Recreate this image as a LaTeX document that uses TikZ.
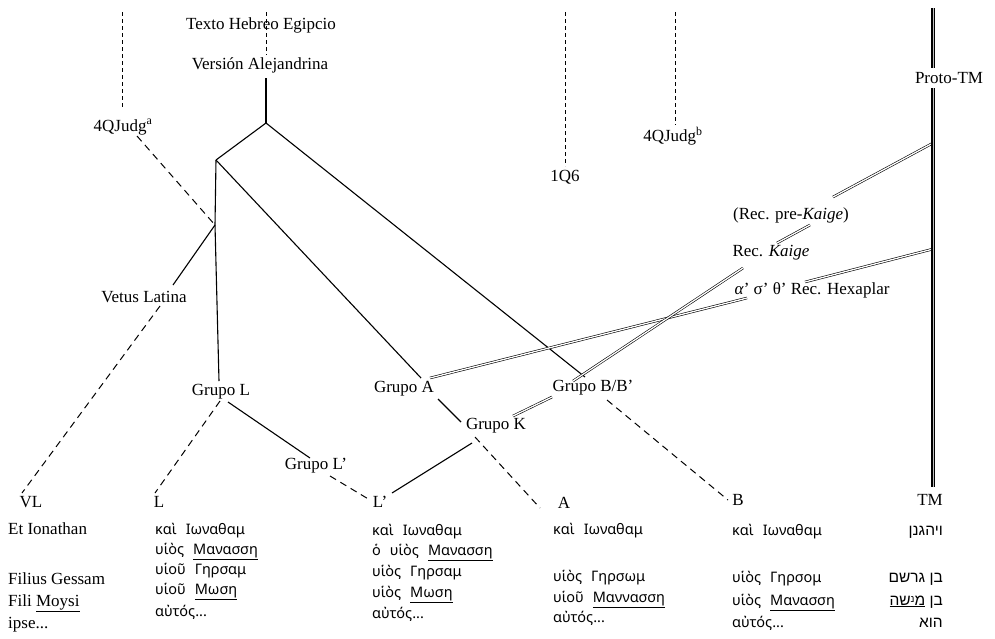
\documentclass[tikz,border=0pt]{standalone}
\usepackage{fontspec}
\setmainfont{Liberation Serif}
\newfontfamily\grk{Noto Sans}
\newfontfamily\heb[Script=Hebrew]{Liberation Sans}
\TeXXeTstate=1
\newcommand{\gsp}{\hspace{9pt}}
\begin{document}
\begin{tikzpicture}[x=1pt,y=-1pt,
  lab/.style={font=\fontsize{17}{20}\selectfont, inner sep=1pt},
  grc/.style={anchor=base west, inner sep=0pt, font=\grk\fontsize{14.5}{17}\selectfont},
  lat/.style={anchor=base west, inner sep=0pt, font=\fontsize{17}{20}\selectfont},
  hebt/.style={anchor=base east, inner sep=0pt, font=\heb\fontsize{15.5}{18}\selectfont},
  ln/.style={line width=1.1pt},
  dsh/.style={line width=1pt, dash pattern=on 7pt off 5pt},
  vdsh/.style={line width=1pt, dash pattern=on 4pt off 3pt},
  dbl/.style={double, line width=0.6pt, double distance=1.3pt},
  tml/.style={double=gray!50, line width=1.2pt, double distance=0.9pt}]

\useasboundingbox (0,0) rectangle (995,638);

% ---- labels ----
\node[lab] (teg) at (261,25) {Texto Hebreo Egipcio};
\node[lab] (va)  at (260,65) {Versión Alejandrina};
\node[lab] (qa)  at (123,127) {4QJudg\textsuperscript{a}};
\node[lab] (q6)  at (565,177) {1Q6};
\node[lab] (qb)  at (673,136) {4QJudg\textsuperscript{b}};
\node[lab] (vet) at (144,297) {Vetus Latina};
\node[lab] (gL)  at (221,392) {Grupo L};
\node[lab] (gA)  at (404,389) {Grupo A};
\node[lab] (gB)  at (593,388) {Grupo B/B’};
\node[lab] (gK)  at (496,426) {Grupo K};
\node[lab] (gLp) at (316,466) {Grupo L’};
\node[lab] (pre) at (791,215) {(Rec. pre-\textit{Kaige})};
\node[lab] (kai) at (771,253) {Rec. \textit{Kaige}};
\node[lab] (hex) at (812,290) {\textit{α}’ σ’ θ’ Rec. Hexaplar};
\node[lab] (ptm) at (949,78) {Proto-TM};

\node[lab] (VL)  at (31,502)  {VL};
\node[lab] (L)   at (159,502) {L};
\node[lab] (Lp)  at (380,502) {L’};
\node[lab] (A)   at (564,503) {A};
\node[lab] (B)   at (738,500) {B};
\node[lab] (TM)  at (930,500) {TM};

% ---- junctions / end points ----
\coordinate (tegTop) at (266,12);
\coordinate (tegBot) at (266,55);
\coordinate (vaBot)  at (266,78);
\coordinate (root)   at (266,123);
\coordinate (F)      at (216,160);
\coordinate (J)      at (215,225);
\coordinate (qaTop)  at (122,12);
\coordinate (qaBot)  at (122,108);
\coordinate (qaOut)  at (137,136);
\coordinate (q6Top)  at (565,12);
\coordinate (q6Bot)  at (565,166);
\coordinate (qbTop)  at (675,12);
\coordinate (qbBot)  at (675,125);
\coordinate (vetIn)  at (173,285);
\coordinate (vetOut) at (160,306);
\coordinate (VLin)   at (22,493);
\coordinate (gLin)   at (219,381);
\coordinate (gLout1) at (220,401);
\coordinate (gLout2) at (228,402);
\coordinate (Lin)    at (155,493);
\coordinate (gLpIn)  at (310,458);
\coordinate (gLpOut) at (330,476);
\coordinate (LpIn1)  at (370,500);
\coordinate (LpIn2)  at (392,493);
\coordinate (gAin)   at (421,378);
\coordinate (gAdbl)  at (430,378);
\coordinate (gAout)  at (438,399);
\coordinate (gKin)   at (461,422);
\coordinate (gKdbl)  at (513,416);
\coordinate (gKout1) at (472,443);
\coordinate (gKout2) at (475,437);
\coordinate (Ain)    at (540,508);
\coordinate (gBin)   at (585,377);
\coordinate (gBdbl1) at (573,381);
\coordinate (gBdbl2) at (552,397);
\coordinate (gBout)  at (607,400);
\coordinate (Bin)    at (728,500);
\coordinate (hexL)   at (747,298);
\coordinate (hexR)   at (805,282);
\coordinate (kaiB)   at (743,268);
\coordinate (kaiT)   at (777,243);
\coordinate (preB)   at (810,225);
\coordinate (preT)   at (833,197);
\coordinate (tmPre)  at (933,143);
\coordinate (tmHex)  at (933,249);
\coordinate (tmTop)  at (933,8);
\coordinate (tmA)    at (933,68);
\coordinate (tmB)    at (933,88);
\coordinate (tmBot)  at (933,487);

% ---- solid connectors ----
\draw[vdsh] (tegTop) -- (tegBot);
\draw[ln] (vaBot) -- (root);
\draw[ln] (root) -- (F);
\draw[ln] (F) -- (J) -- (gLin);
\draw[ln] (J) -- (vetIn);
\draw[ln] (F) -- (gAin);
\draw[ln] (root) -- (gBin);
\draw[ln] (gLout2) -- (gLpIn);
\draw[ln] (gAout) -- (gKin);
\draw[ln] (gKout1) -- (LpIn2);

% ---- dashed connectors ----
\draw[vdsh] (qaTop) -- (qaBot);
\draw[vdsh] (q6Top) -- (q6Bot);
\draw[vdsh] (qbTop) -- (qbBot);
\draw[dsh] (qaOut) -- (J);
\draw[dsh] (vetOut) -- (VLin);
\draw[dsh] (gLout1) -- (Lin);
\draw[dsh] (gLpOut) -- (LpIn1);
\draw[dsh] (gKout2) -- (Ain);
\draw[dsh] (gBout) -- (Bin);

% ---- double connectors ----
\draw[dbl] (gAdbl) -- (hexL);
\draw[dbl] (hexR) -- (tmHex);
\draw[dbl] (gBdbl1) -- (kaiB);
\draw[dbl] (kaiT) -- (preB);
\draw[dbl] (preT) -- (tmPre);
\draw[dbl] (gBdbl2) -- (gKdbl);
\draw[tml] (tmTop) -- (tmA);
\draw[tml] (tmB) -- (tmBot);

% ---- text columns ----
\node[lat] (vl1) at (8,534) {Et Ionathan};
\node[lat] (vl3) at (8,584) {Filius Gessam};
\node[lat] (vl4) at (8,606) {Fili \underline{Moysi}};
\node[lat] (vl5) at (8,628) {ipse...};

\node[grc] (l1) at (155,534) {καὶ\gsp Ιωναθαμ};
\node[grc] (l2) at (155,554) {υἱὸς\gsp \underline{Μανασση}};
\node[grc] (l3) at (155,574) {υἱοῦ\gsp Γηρσαμ};
\node[grc] (l4) at (155,594) {υἱοῦ\gsp \underline{Μωση}};
\node[grc] (l5) at (155,616) {αὐτός...};

\node[grc] (lp1) at (372,535) {καὶ\gsp Ιωναθαμ};
\node[grc] (lp2) at (372,555) {ὁ\gsp υἱὸς\gsp \underline{Μανασση}};
\node[grc] (lp3) at (372,576) {υἱὸς\gsp Γηρσαμ};
\node[grc] (lp4) at (372,597) {υἱὸς\gsp \underline{Μωση}};
\node[grc] (lp5) at (372,618) {αὐτός...};

\node[grc] (a1) at (553,534) {καὶ\gsp Ιωναθαμ};
\node[grc] (a3) at (553,581) {υἱὸς\gsp Γηρσωμ};
\node[grc] (a4) at (553,602) {υἱοῦ\gsp \underline{Μαννασση}};
\node[grc] (a5) at (553,622) {αὐτός...};

\node[grc] (b1) at (732,535) {καὶ\gsp Ιωναθαμ};
\node[grc] (b3) at (732,582) {υἱὸς\gsp Γηρσομ};
\node[grc] (b4) at (732,605) {υἱὸς\gsp \underline{Μανασση}};
\node[grc] (b5) at (732,627) {αὐτός...};

\node[hebt] (h1) at (943,535) {\beginR ויהגנן\endR};
\node[hebt] (h3) at (943,582) {\beginR בן גרשם\endR};
\node[hebt] (h4) at (943,605) {\beginR בן \underline{\beginR מ\raisebox{3pt}{\fontsize{10}{11}\selectfont נ}שה\endR}\endR};
\node[hebt] (h5) at (943,627) {\beginR הוא\endR};
\end{tikzpicture}
\end{document}
